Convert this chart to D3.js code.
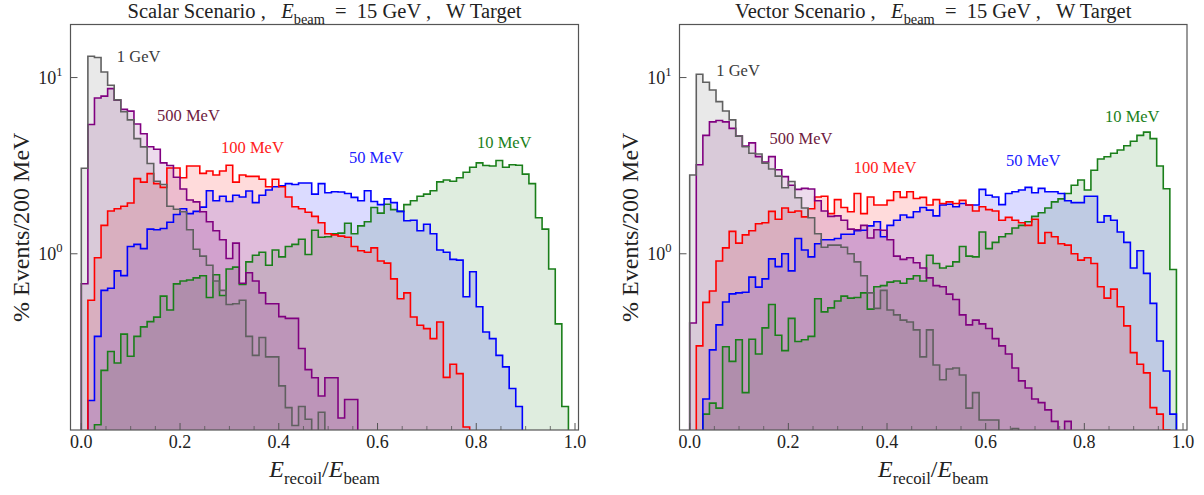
<!DOCTYPE html>
<html><head><meta charset="utf-8">
<script src="https://cdn.jsdelivr.net/npm/d3@7"></script>
<style>
body{margin:0;background:#fff}
svg text{font-family:"Liberation Serif","Times New Roman",serif;white-space:pre}
</style>
</head><body>
<svg id="chart" width="1204" height="495"></svg>
<script>
// ---------------- DATA ----------------
const nBins = 75;                       // 200 MeV bins for 15 GeV beam
const seriesNames = ["1 GeV", "500 MeV", "100 MeV", "50 MeV", "10 MeV"];
const xTickValues = [0, 0.2, 0.4, 0.6, 0.8, 1.0];
const xMinorTickValues = [0.05,0.1,0.15,0.25,0.3,0.35,0.45,0.5,0.55,0.65,0.7,0.75,0.85,0.9,0.95];
const yTickValues = [1, 10];
const yTickExponents = ["0", "1"];
const panelTitles = ["Scalar Scenario ,   ", "Vector Scenario ,   "];

// Scalar scenario, % events per bin (0 = empty bin)
const scalar1GeV = [3.06,13.2,13.0,10.75,9.05,7.47,6.4,5.75,4.5,4.04,3.25,2.58,2.47,1.86,1.79,1.73,1.37,1.06,0.97,0.86,0.7,0.62,0.515,0.52,0.545,0.34,0.265,0.335,0.26,0.26,0.178,0.134,0.106,0.136,0.115,0.097,0.126,0,0,0,0,0,0,0,0,0,0,0,0,0,0,0,0,0,0,0,0,0,0,0,0,0,0,0,0,0,0,0,0,0,0,0,0,0,0];
const scalar500MeV = [0.676,5.42,7.65,7.85,8.65,7.45,6.6,6.45,5.45,4.8,4.05,3.92,3.28,3.17,2.72,2.33,2.02,1.97,1.73,1.52,1.35,1.2,0.94,1.15,0.68,0.78,0.7,0.6,0.52,0.52,0.44,0.43,0.43,0.29,0.22,0.198,0.156,0.198,0.198,0.117,0.149,0.149,0,0,0,0,0,0,0,0,0,0,0,0,0,0,0,0,0,0,0,0,0,0,0,0,0,0,0,0,0,0,0,0,0];
const scalar100MeV = [0,0.545,0.95,1.45,1.75,1.8,1.86,1.94,2.67,2.55,2.85,2.5,2.38,3.07,3.07,2.7,3.15,3.15,2.86,2.95,2.8,2.95,3.18,2.55,2.8,2.75,2.75,2.65,2.4,2.65,2.4,2.1,1.85,1.8,1.72,1.63,1.5,1.3,1.28,1.26,1.24,1.1,1.04,1.02,1.08,0.91,0.885,0.72,0.556,0.6,0.438,0.393,0.376,0.33,0.41,0.199,0.236,0.209,0.104,0,0,0,0,0,0,0,0,0,0,0,0,0,0,0,0];
const scalar50MeV = [0,0.147,0.34,0.62,0.637,0.8,0.752,1.1,1.13,1.07,1.38,1.37,1.39,1.51,1.67,1.8,1.69,1.74,1.84,2.28,2.0,2.12,1.98,2.15,2.1,2.27,1.95,2.15,2.3,2.4,2.43,2.5,2.47,2.52,2.52,2.18,2.5,2.22,2.25,2.24,2.2,2.09,2.0,2.28,1.98,1.9,2.05,1.95,1.74,1.54,1.55,1.35,1.47,1.3,1.05,1.02,0.93,0.92,0.57,0.79,0.5,0.36,0.33,0.265,0.228,0.172,0.136,0,0,0,0,0,0,0,0];
const scalar10MeV = [0,0,0.107,0.218,0.279,0.24,0.35,0.262,0.34,0.385,0.412,0.437,0.575,0.48,0.675,0.7,0.71,0.73,0.75,0.565,0.76,0.58,0.82,0.84,0.67,0.9,0.98,1.02,0.86,1.05,0.96,1.1,1.13,1.21,0.99,1.36,1.24,1.25,1.3,1.31,1.49,1.3,1.44,1.52,1.83,1.7,1.91,1.78,1.74,1.9,2.0,2.12,2.18,2.28,2.56,2.62,2.58,2.7,2.9,3.1,3.28,3.17,3.15,3.38,3.1,3.2,3.18,2.83,2.5,1.6,1.38,0.82,0.4,0.136,0];

// Vector scenario
const vector1GeV = [2.8,10.45,9.4,8.5,7.3,6.46,5.75,4.65,4.05,3.72,3.68,3.27,3.03,2.76,2.37,2.57,2.08,1.82,1.6,1.3,1.09,1.12,1.12,1.09,1.0,0.9,0.75,0.6,0.49,0.62,0.48,0.45,0.42,0.41,0.37,0.26,0.37,0.234,0.193,0.222,0.225,0.205,0.133,0.163,0.114,0.114,0.114,0,0,0.102,0,0,0,0,0,0,0,0,0,0,0,0,0,0,0,0,0,0,0,0,0,0,0,0,0];
const vector500MeV = [0.405,3.2,4.7,5.6,5.7,5.6,5.15,4.65,4.08,4.26,3.56,3.32,3.56,3.0,2.74,2.45,2.32,2.35,2.33,2.0,1.75,1.63,1.64,1.55,1.38,1.37,1.45,1.23,1.37,1.36,1.2,0.97,0.93,0.95,0.89,0.83,0.73,0.66,0.65,0.59,0.55,0.45,0.395,0.42,0.4,0.377,0.33,0.3,0.27,0.225,0.19,0.173,0.15,0.143,0.13,0.112,0.095,0.112,0,0,0,0,0,0,0,0,0,0,0,0,0,0,0,0,0];
const vector100MeV = [0,0.3,0.53,0.615,0.91,1.08,1.34,1.15,1.28,1.35,1.48,1.5,1.74,1.57,1.82,1.72,1.75,1.62,1.8,2.1,2.12,1.69,2.03,1.83,1.73,2.2,1.69,2.1,1.89,1.89,2.01,2.25,2.09,2.25,2.06,2.09,1.89,2.03,1.93,1.97,1.93,2.01,1.89,1.75,1.85,1.78,1.75,1.55,1.61,1.55,1.5,1.45,1.57,1.15,1.32,1.25,1.14,1.12,1.0,0.92,0.95,0.88,0.65,0.56,0.63,0.5,0.39,0.275,0.236,0.211,0.134,0.123,0.1,0,0];
const vector50MeV = [0,0,0.15,0.285,0.395,0.533,0.592,0.6,0.605,0.737,0.647,0.72,0.935,0.845,1.0,0.8,1.22,1.05,0.96,1.14,1.2,1.2,1.22,1.29,1.29,1.35,1.36,1.44,1.52,1.25,1.45,1.55,1.66,1.61,1.73,1.83,1.77,1.64,1.89,1.91,1.85,1.93,1.89,1.89,2.32,2.15,2.1,1.9,2.2,2.25,2.3,2.38,2.22,2.35,2.25,2.25,2.2,2.0,1.95,1.95,2.12,2.12,1.51,1.64,1.55,1.33,1.16,0.83,1.04,0.774,0.523,0.32,0.216,0.123,0];
const vector10MeV = [0,0,0.123,0.142,0.133,0.297,0.245,0.325,0.163,0.327,0.27,0.38,0.515,0.345,0.282,0.43,0.318,0.325,0.34,0.556,0.468,0.493,0.54,0.575,0.56,0.565,0.6,0.485,0.65,0.66,0.69,0.7,0.68,0.72,0.75,0.7,0.98,0.88,0.83,0.85,0.9,1.1,0.97,0.96,1.33,1.07,1.16,1.25,1.3,1.4,1.45,1.52,1.63,1.71,1.82,1.97,2.05,2.2,2.45,2.62,2.3,2.98,3.45,3.55,3.72,3.88,4.1,4.35,4.7,4.9,4.5,3.15,2.34,0.815,0];

// label anchor points in data coordinates [x, y]
const scalarLabelAt = [[0.072,12.3],[0.1535,5.67],[0.283,3.73],[0.542,3.28],[0.8015,3.99]];
const vectorLabelAt = [[0.054,10.27],[0.162,4.22],[0.3325,2.86],[0.6412,3.15],[0.8419,5.63]];

// ---------------- STYLE ----------------
const lineColors  = ["#606060", "#800080", "#ff0000", "#0000ff", "#1a7f1a"];
const labelColors = ["#3a3a3a", "#6e1a40", "#ff2020", "#2020ff", "#1a7f1a"];
const fillOpacity = 0.14;
const drawOrder = [4, 3, 2, 1, 0];

const panels = [
  { title: panelTitles[0], series: [scalar1GeV, scalar500MeV, scalar100MeV, scalar50MeV, scalar10MeV],
    labels: scalarLabelAt, frame: [70.5, 578.5], xr: [81.3, 575] },
  { title: panelTitles[1], series: [vector1GeV, vector500MeV, vector100MeV, vector50MeV, vector10MeV],
    labels: vectorLabelAt, frame: [679.5, 1187], xr: [689.7, 1183] }
];
const plotTop = 24.5, plotBottom = 430;
const binEdges = d3.range(nBins + 1).map(i => i / nBins);

const svg = d3.select("#chart");

function rich(g, x, y, parts, size, anchor, color) {
  const t = g.append("text").attr("x", x).attr("y", y).attr("font-size", size)
    .attr("text-anchor", anchor || "start").attr("fill", color || "#222");
  let shift = 0;
  parts.forEach(p => {
    const s = t.append("tspan").text(p.t);
    const target = p.sub ? size * 0.3 : p.sup ? -size * 0.42 : 0;
    s.attr("dy", target - shift); shift = target;
    if (p.sub || p.sup) s.attr("font-size", size * 0.7);
    if (p.it) s.attr("font-style", "italic");
  });
  return t;
}

panels.forEach((P, pi) => {
  const g = svg.append("g");
  const x = d3.scaleLinear().domain([0, 1]).range(P.xr);
  const y = d3.scaleLog().domain([0.1, 20]).range([plotBottom, plotTop]);
  const fx0 = P.frame[0], fx1 = P.frame[1];
  const clipId = "clip" + pi;
  svg.append("clipPath").attr("id", clipId).append("rect")
    .attr("x", fx0).attr("y", plotTop).attr("width", fx1 - fx0).attr("height", plotBottom - plotTop);

  const base = plotBottom + 6;
  function stepPath(vals, close) {
    let f = vals.findIndex(v => v > 0);
    let l = vals.length - 1; while (l >= 0 && !(vals[l] > 0)) l--;
    let d = `M${x(binEdges[f])},${base}`;
    for (let i = f; i <= l; i++) {
      const yy = vals[i] > 0 ? Math.min(y(vals[i]), base) : base;
      d += `L${x(binEdges[i])},${yy}L${x(binEdges[i + 1])},${yy}`;
    }
    d += `L${x(binEdges[l + 1])},${base}`;
    if (close) d += "Z";
    return d;
  }
  const plot = g.append("g").attr("clip-path", `url(#${clipId})`);
  drawOrder.forEach(si => {
    plot.append("path").attr("d", stepPath(P.series[si], true))
      .attr("fill", lineColors[si]).attr("fill-opacity", fillOpacity).attr("stroke", "none");
  });
  drawOrder.forEach(si => {
    plot.append("path").attr("d", stepPath(P.series[si], false))
      .attr("fill", "none").attr("stroke", lineColors[si]).attr("stroke-width", 1.6)
      .attr("stroke-linejoin", "miter");
  });

  // frame
  g.append("rect").attr("x", fx0).attr("y", plotTop).attr("width", fx1 - fx0).attr("height", plotBottom - plotTop)
    .attr("fill", "none").attr("stroke", "#555").attr("stroke-width", 1.2);

  // x ticks
  xTickValues.forEach(v => {
    g.append("line").attr("x1", x(v)).attr("x2", x(v)).attr("y1", plotBottom).attr("y2", plotBottom - 7)
      .attr("stroke", "#555").attr("stroke-width", 1);
    g.append("text").attr("x", x(v)).attr("y", plotBottom + 18).attr("text-anchor", "middle")
      .attr("font-size", 18).attr("fill", "#222").text(d3.format(".1f")(v));
  });
  xMinorTickValues.forEach(v => {
    g.append("line").attr("x1", x(v)).attr("x2", x(v)).attr("y1", plotBottom).attr("y2", plotBottom - 4)
      .attr("stroke", "#555").attr("stroke-width", 0.8);
  });
  // y ticks
  yTickValues.forEach((v, i) => {
    g.append("line").attr("x1", fx0).attr("x2", fx0 + 7).attr("y1", y(v)).attr("y2", y(v))
      .attr("stroke", "#555").attr("stroke-width", 1);
    rich(g, fx0 - 8, y(v) + 6, [{t: "10"}, {t: yTickExponents[i], sup: true}], 18, "end", "#222");
  });

  // series labels
  seriesNames.forEach((name, si) => {
    g.append("text").attr("x", x(P.labels[si][0])).attr("y", y(P.labels[si][1]))
      .attr("font-size", 16.5).attr("fill", labelColors[si]).text(name);
  });

  // title
  const cx = (fx0 + fx1) / 2;
  rich(g, cx, 18, [{t: P.title}, {t: "E", it: true}, {t: "beam", sub: true}, {t: "  =  15 GeV ,   W Target"}], 20.5, "middle", "#222");
  // x title
  rich(g, cx, 477, [{t: "E", it: true}, {t: "recoil", sub: true}, {t: "/"}, {t: "E", it: true}, {t: "beam", sub: true}], 24, "middle", "#222");
  // y title
  g.append("text").attr("transform", `translate(${fx0 - 42},${(plotTop + plotBottom) / 2}) rotate(-90)`)
    .attr("text-anchor", "middle").attr("font-size", 24).attr("fill", "#222").text("% Events/200 MeV");
});
</script>
</body></html>
